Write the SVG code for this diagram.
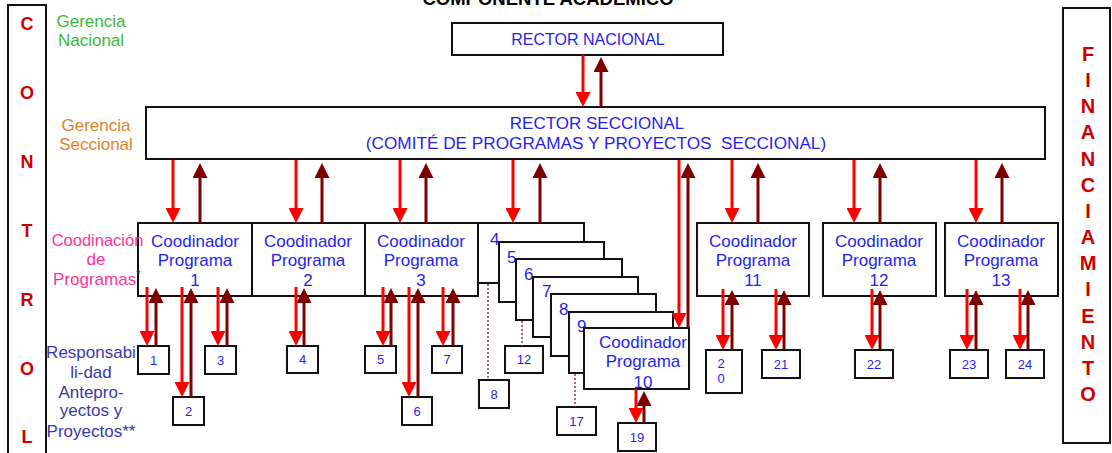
<svg xmlns="http://www.w3.org/2000/svg" width="1112" height="453" viewBox="0 0 1112 453">
<defs>
<style>
text{font-family:"Liberation Sans",Arial,sans-serif}
.box{fill:#fff;stroke:#111;stroke-width:2}
.side{fill:none;stroke:#111;stroke-width:2}
.lt{fill:#cc0000;font-weight:bold;text-anchor:middle}
.bl{fill:#1f1ff0;text-anchor:middle}
.pg{fill:#1f1ff0;text-anchor:middle;font-size:17px}
.st{fill:#1f1ff0;font-size:17px}
.sm{fill:#1f1ff0;text-anchor:middle;font-size:13px}
.dn{stroke:#ff0000;stroke-width:3;fill:none;marker-end:url(#hr)}
.up{stroke:#7f0000;stroke-width:3;fill:none;marker-end:url(#hd)}
.dot{stroke:#a03030;stroke-width:1.5;stroke-dasharray:2 2;fill:none}
</style>
<marker id="hr" markerUnits="userSpaceOnUse" markerWidth="15" markerHeight="15" viewBox="0 0 15 15" refX="5" refY="7.5" orient="auto"><path d="M0,0 L15,7.5 L0,15 z" fill="#ff0000"/></marker>
<marker id="hd" markerUnits="userSpaceOnUse" markerWidth="15" markerHeight="15" viewBox="0 0 15 15" refX="5" refY="7.5" orient="auto"><path d="M0,0 L15,7.5 L0,15 z" fill="#7f0000"/></marker>
</defs>
<rect width="1112" height="453" fill="#fff"/>

<text x="548" y="5" font-size="18.5" font-weight="bold" text-anchor="middle" fill="#000">COMPONENTE ACADEMICO</text>

<g id="control">
<rect class="side" x="8" y="5" width="38" height="460"/>
<text class="lt" font-size="18" x="27" y="30">C</text>
<text class="lt" font-size="18" x="27" y="99">O</text>
<text class="lt" font-size="18" x="27" y="168">N</text>
<text class="lt" font-size="18" x="27" y="237">T</text>
<text class="lt" font-size="18" x="27" y="306">R</text>
<text class="lt" font-size="18" x="27" y="375">O</text>
<text class="lt" font-size="18" x="27" y="443">L</text>
</g>

<g id="financiamiento">
<rect class="side" x="1063" y="8" width="47" height="435"/>
<text class="lt" font-size="20" x="1088" y="61">F</text>
<text class="lt" font-size="20" x="1088" y="87">I</text>
<text class="lt" font-size="20" x="1088" y="113">N</text>
<text class="lt" font-size="20" x="1088" y="139">A</text>
<text class="lt" font-size="20" x="1088" y="166">N</text>
<text class="lt" font-size="20" x="1088" y="192">C</text>
<text class="lt" font-size="20" x="1088" y="218">I</text>
<text class="lt" font-size="20" x="1088" y="244">A</text>
<text class="lt" font-size="20" x="1088" y="270">M</text>
<text class="lt" font-size="20" x="1088" y="296">I</text>
<text class="lt" font-size="20" x="1088" y="323">E</text>
<text class="lt" font-size="20" x="1088" y="349">N</text>
<text class="lt" font-size="20" x="1088" y="375">T</text>
<text class="lt" font-size="20" x="1088" y="401">O</text>
</g>

<g id="rector-nacional">
<rect class="box" x="452" y="23" width="271" height="32"/>
<text class="bl" font-size="16" x="588" y="45">RECTOR NACIONAL</text>
</g>

<g id="rector-seccional">
<rect class="box" x="146" y="107" width="899" height="52"/>
<text class="bl" font-size="17" x="597" y="129">RECTOR SECCIONAL</text>
<text class="bl" font-size="17.2" x="596" y="149" xml:space="preserve">(COMITÉ DE PROGRAMAS Y PROYECTOS  SECCIONAL)</text>
</g>

<g id="prog1">
<rect class="box" x="138" y="223" width="114" height="73"/>
<text class="pg" x="195" y="247">Coodinador</text>
<text class="pg" x="195" y="266">Programa</text>
<text class="pg" x="195" y="286">1</text>
</g>
<g id="prog2">
<rect class="box" x="252" y="223" width="113" height="73"/>
<text class="pg" x="308" y="247">Coodinador</text>
<text class="pg" x="308" y="266">Programa</text>
<text class="pg" x="308" y="286">2</text>
</g>
<g id="prog3">
<rect class="box" x="365" y="223" width="113" height="73"/>
<text class="pg" x="421" y="247">Coodinador</text>
<text class="pg" x="421" y="266">Programa</text>
<text class="pg" x="421" y="286">3</text>
</g>

<g id="prog4"><rect class="box" x="478" y="223" width="106" height="60"/><text class="st" x="490" y="245">4</text></g>
<g id="prog5"><rect class="box" x="499" y="242" width="105" height="60"/><text class="st" x="507" y="263">5</text></g>
<g id="prog6"><rect class="box" x="516" y="259" width="106" height="61"/><text class="st" x="524" y="280">6</text></g>
<g id="prog7"><rect class="box" x="533" y="277" width="105" height="60"/><text class="st" x="542" y="297">7</text></g>
<g id="prog8"><rect class="box" x="551" y="294" width="105" height="62"/><text class="st" x="559" y="315">8</text></g>
<g id="prog9"><rect class="box" x="569" y="312" width="104" height="61"/><text class="st" x="577" y="332">9</text></g>
<g id="prog10">
<rect class="box" x="584" y="328" width="105" height="61"/>
<text class="pg" x="643" y="348">Coodinador</text>
<text class="pg" x="643" y="367">Programa</text>
<text class="pg" x="643" y="388">10</text>
</g>

<g id="prog11">
<rect class="box" x="697" y="223" width="112" height="73"/>
<text class="pg" x="753" y="247">Coodinador</text>
<text class="pg" x="753" y="266">Programa</text>
<text class="pg" x="753" y="286">11</text>
</g>
<g id="prog12">
<rect class="box" x="823" y="223" width="113" height="73"/>
<text class="pg" x="879" y="247">Coodinador</text>
<text class="pg" x="879" y="266">Programa</text>
<text class="pg" x="879" y="286">12</text>
</g>
<g id="prog13">
<rect class="box" x="945" y="223" width="113" height="73"/>
<text class="pg" x="1001" y="247">Coodinador</text>
<text class="pg" x="1001" y="266">Programa</text>
<text class="pg" x="1001" y="286">13</text>
</g>

<g id="p1"><rect class="box" x="138" y="346" width="31" height="28"/><text class="sm" x="153.5" y="365">1</text></g>
<g id="p2"><rect class="box" x="173" y="397" width="31" height="28"/><text class="sm" x="188.5" y="416">2</text></g>
<g id="p3"><rect class="box" x="205" y="346" width="31" height="28"/><text class="sm" x="220.5" y="365">3</text></g>
<g id="p4"><rect class="box" x="287" y="346" width="31" height="27"/><text class="sm" x="302.5" y="364">4</text></g>
<g id="p5"><rect class="box" x="365" y="346" width="31" height="27"/><text class="sm" x="380.5" y="364">5</text></g>
<g id="p6"><rect class="box" x="402" y="397" width="30" height="28"/><text class="sm" x="417" y="416">6</text></g>
<g id="p7"><rect class="box" x="432" y="346" width="30" height="27"/><text class="sm" x="447" y="364">7</text></g>
<g id="p8"><rect class="box" x="479" y="380" width="30" height="28"/><text class="sm" x="494" y="399">8</text></g>
<g id="p12"><rect class="box" x="505" y="346" width="38" height="27"/><text class="sm" x="524" y="364">12</text></g>
<g id="p17"><rect class="box" x="557" y="407" width="39" height="28"/><text class="sm" x="576.5" y="426">17</text></g>
<g id="p19"><rect class="box" x="618" y="423" width="38" height="28"/><text class="sm" x="637" y="442">19</text></g>
<g id="p20"><rect class="box" x="706" y="350" width="36" height="43"/><text class="sm" x="721" y="368">2</text><text class="sm" x="721" y="383">0</text></g>
<g id="p21"><rect class="box" x="762" y="350" width="38" height="28"/><text class="sm" x="781" y="369">21</text></g>
<g id="p22"><rect class="box" x="855" y="350" width="38" height="28"/><text class="sm" x="874" y="369">22</text></g>
<g id="p23"><rect class="box" x="950" y="350" width="38" height="28"/><text class="sm" x="969" y="369">23</text></g>
<g id="p24"><rect class="box" x="1006" y="350" width="38" height="28"/><text class="sm" x="1025" y="369">24</text></g>

<g id="labels">
<text x="91" y="27" font-size="17" text-anchor="middle" fill="#3cb83c">Gerencia</text>
<text x="91" y="46" font-size="17" text-anchor="middle" fill="#3cb83c">Nacional</text>
<text x="96" y="131" font-size="17" text-anchor="middle" fill="#e0822a">Gerencia</text>
<text x="96" y="150" font-size="17" text-anchor="middle" fill="#e0822a">Seccional</text>
<text x="97.5" y="246" font-size="16.5" text-anchor="middle" fill="#ff3399">Coodinación</text>
<text x="96" y="265" font-size="17" text-anchor="middle" fill="#ff3399">de</text>
<text x="53" y="285" font-size="17" fill="#ff3399">Programas<tspan fill="#333" font-size="11" dy="-7">*</tspan></text>
<text x="91" y="358" font-size="17" text-anchor="middle" fill="#3838a8">Responsabi</text>
<text x="91" y="378" font-size="17" text-anchor="middle" fill="#3838a8">li-dad</text>
<text x="91" y="398" font-size="17" text-anchor="middle" fill="#3838a8">Antepro-</text>
<text x="91" y="416" font-size="17" text-anchor="middle" fill="#3838a8">yectos y</text>
<text x="91" y="437" font-size="17" text-anchor="middle" fill="#3838a8">Proyectos**</text>
</g>

<g id="connectors">
<line class="dn" x1="583" y1="55" x2="583" y2="97"/>
<line class="up" x1="601" y1="107" x2="601" y2="67"/>

<line class="dn" x1="173" y1="160" x2="173" y2="213"/><line class="up" x1="200" y1="223" x2="200" y2="173"/>
<line class="dn" x1="296" y1="160" x2="296" y2="213"/><line class="up" x1="322" y1="223" x2="322" y2="173"/>
<line class="dn" x1="400" y1="160" x2="400" y2="213"/><line class="up" x1="426" y1="223" x2="426" y2="173"/>
<line class="dn" x1="513" y1="160" x2="513" y2="213"/><line class="up" x1="540" y1="223" x2="540" y2="173"/>
<line class="dn" x1="679" y1="160" x2="679" y2="318"/><line class="up" x1="688" y1="328" x2="688" y2="173"/>
<line class="dn" x1="732" y1="160" x2="732" y2="213"/><line class="up" x1="758" y1="223" x2="758" y2="173"/>
<line class="dn" x1="854" y1="160" x2="854" y2="213"/><line class="up" x1="880" y1="223" x2="880" y2="173"/>
<line class="dn" x1="976" y1="160" x2="976" y2="213"/><line class="up" x1="1002" y1="223" x2="1002" y2="173"/>

<line class="dn" x1="147" y1="287" x2="147" y2="336"/><line class="up" x1="156" y1="346" x2="156" y2="298"/>
<line class="dn" x1="182" y1="287" x2="182" y2="387"/><line class="up" x1="191" y1="397" x2="191" y2="298"/>
<line class="dn" x1="218" y1="287" x2="218" y2="336"/><line class="up" x1="227" y1="346" x2="227" y2="298"/>
<line class="dn" x1="296" y1="287" x2="296" y2="336"/><line class="up" x1="304" y1="346" x2="304" y2="298"/>
<line class="dn" x1="383" y1="287" x2="383" y2="336"/><line class="up" x1="391" y1="346" x2="391" y2="298"/>
<line class="dn" x1="409" y1="287" x2="409" y2="387"/><line class="up" x1="418" y1="397" x2="418" y2="298"/>
<line class="dn" x1="443" y1="287" x2="443" y2="336"/><line class="up" x1="453" y1="346" x2="453" y2="298"/>
<line class="dn" x1="636" y1="389" x2="636" y2="413"/><line class="up" x1="644" y1="423" x2="644" y2="401"/>
<line class="dn" x1="723" y1="289" x2="723" y2="340"/><line class="up" x1="732" y1="350" x2="732" y2="300"/>
<line class="dn" x1="776" y1="289" x2="776" y2="340"/><line class="up" x1="784" y1="350" x2="784" y2="300"/>
<line class="dn" x1="872" y1="289" x2="872" y2="340"/><line class="up" x1="880" y1="350" x2="880" y2="300"/>
<line class="dn" x1="967" y1="289" x2="967" y2="340"/><line class="up" x1="976" y1="350" x2="976" y2="300"/>
<line class="dn" x1="1020" y1="289" x2="1020" y2="340"/><line class="up" x1="1028" y1="350" x2="1028" y2="300"/>

<line class="dot" x1="488" y1="284" x2="488" y2="380"/>
<line class="dot" x1="522" y1="321" x2="522" y2="346"/>
<line class="dot" x1="575" y1="374" x2="575" y2="407"/>
</g>
</svg>
